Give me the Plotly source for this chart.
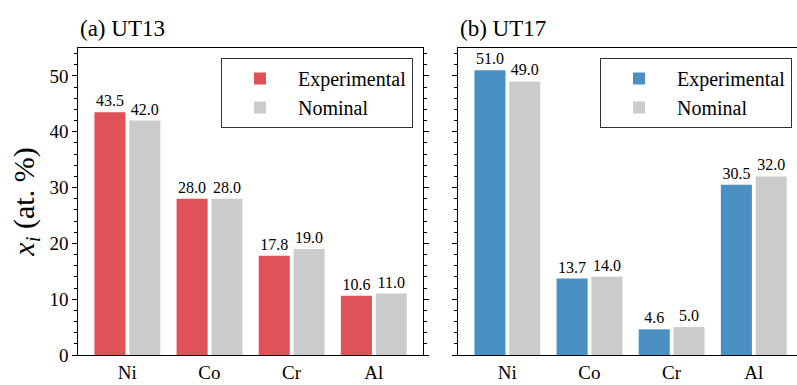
import plotly.graph_objects as go

elements = ["Ni", "Co", "Cr", "Al"]
ut13_experimental = [43.5, 28.0, 17.8, 10.6]
ut13_nominal = [42.0, 28.0, 19.0, 11.0]
ut17_experimental = [51.0, 13.7, 4.6, 30.5]
ut17_nominal = [49.0, 14.0, 5.0, 32.0]
panel_titles = ["(a) UT13", "(b) UT17"]
y_ticks = [0, 10, 20, 30, 40, 50]

RED = "#E05257"
BLUE = "#4A90C3"
GRAY = "#CBCBCB"
FONT = "Liberation Serif, DejaVu Serif"

fig = go.Figure()

def add_bars(exp, nom, color, xa, ya, legend):
    fig.add_trace(go.Bar(
        x=elements, y=exp, name="Experimental", marker=dict(color=color, line=dict(width=0)),
        offset=-0.40, width=0.378, xaxis=xa, yaxis=ya, legend=legend,
        texttemplate="%{y:.1f}", textposition="outside", constraintext="none",
        textfont=dict(family=FONT, size=16, color="black"), cliponaxis=False,
    ))
    fig.add_trace(go.Bar(
        x=elements, y=nom, name="Nominal", marker=dict(color=GRAY, line=dict(width=0)),
        offset=0.024, width=0.378, xaxis=xa, yaxis=ya, legend=legend,
        texttemplate="%{y:.1f}", textposition="outside", constraintext="none",
        textfont=dict(family=FONT, size=16, color="black"), cliponaxis=False,
    ))

add_bars(ut13_experimental, ut13_nominal, RED, "x", "y", "legend")
add_bars(ut17_experimental, ut17_nominal, BLUE, "x2", "y2", "legend2")

W, H = 797, 385
ml, mr, mt, mb = 78, 0, 48, 30
pw = W - ml - mr
unit = 345 / 4.2

common_x = dict(type="category", showline=True, linecolor="black", linewidth=1.2,
                mirror=True, ticks="", showgrid=False, zeroline=False,
                tickfont=dict(family=FONT, size=19, color="black"))
common_y = dict(range=[0, 55], tickvals=y_ticks, showline=True, linecolor="black",
                linewidth=1.2, ticks="outside", ticklen=4.5, tickwidth=1, tickcolor="black",
                minor=dict(dtick=2, ticks="outside", ticklen=2.5, tickwidth=1, tickcolor="black"),
                showgrid=False, zeroline=False,
                tickfont=dict(family=FONT, size=19, color="black"))

legend_common = dict(font=dict(family=FONT, size=20, color="black"), bgcolor="white",
                     bordercolor="#333333", borderwidth=1, xanchor="right", yanchor="top",
                     itemwidth=66)

fig.update_layout(
    width=W, height=H, margin=dict(l=ml, r=mr, t=mt, b=mb),
    paper_bgcolor="white", plot_bgcolor="white", barmode="overlay",
    font=dict(family=FONT, color="black"),
    xaxis=dict(common_x, domain=[0, 345 / pw], range=[-0.6, 3.6]),
    xaxis2=dict(common_x, domain=[380 / pw, 1], range=[-0.6, -0.6 + (pw - 380) / unit], anchor="y2"),
    yaxis=dict(common_y, mirror="ticks",
               title=dict(text="<i>x<sub>i</sub></i> (at. %)", font=dict(family=FONT, size=30), standoff=6)),
    yaxis2=dict(common_y, anchor="x2", matches="y", showticklabels=False, mirror=False),
    legend=dict(legend_common, x=(413 - ml) / pw, y=(H - mb - 58) / (H - mt - mb)),
    legend2=dict(legend_common, x=(792 - ml) / pw, y=(H - mb - 58) / (H - mt - mb)),
    annotations=[
        dict(text=panel_titles[0], xref="x domain", yref="y domain", x=0, y=1, xanchor="left",
             yanchor="bottom", yshift=5, showarrow=False, font=dict(family=FONT, size=23)),
        dict(text=panel_titles[1], xref="x2 domain", yref="y2 domain", x=0, y=1, xanchor="left",
             yanchor="bottom", yshift=5, showarrow=False, font=dict(family=FONT, size=23)),
    ],
)

fig.write_html("out.html")
